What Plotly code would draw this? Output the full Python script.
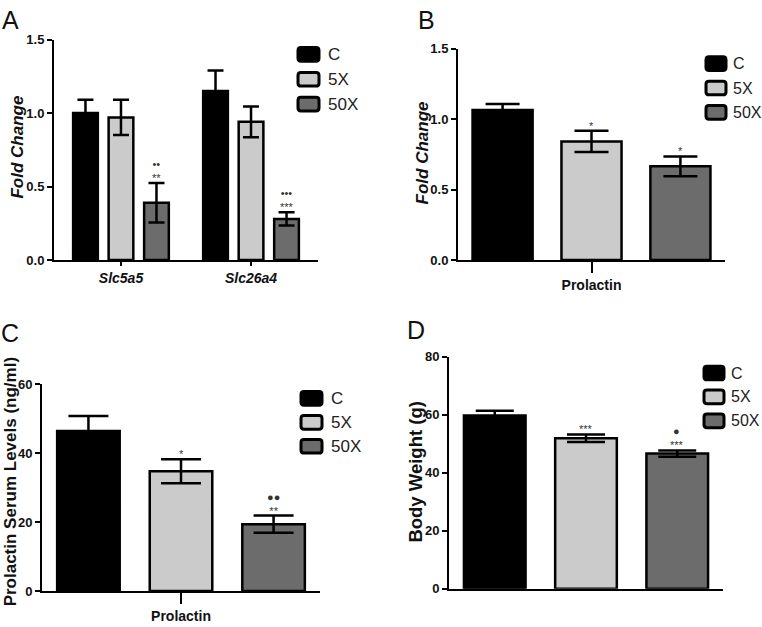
import plotly.graph_objects as go

# ---------------- data ----------------
groups = ["C", "5X", "50X"]
colors = ["#000000", "#cbcbcb", "#6c6c6c"]

a_genes = ["Slc5a5", "Slc26a4"]
a_mean = {"C": [1.00, 1.15], "5X": [0.97, 0.94], "50X": [0.39, 0.28]}
a_sem = {"C": [0.09, 0.14], "5X": [0.12, 0.105], "50X": [0.135, 0.045]}
a_sig = {"50X": ["••<br>**", "•••<br>***"]}

b_cat = ["Prolactin"]
b_mean = [1.065, 0.842, 0.665]
b_sem = [0.042, 0.075, 0.07]
b_sig = ["", "*", "*"]

c_cat = ["Prolactin"]
c_mean = [46.5, 34.8, 19.4]
c_sem = [4.3, 3.5, 2.5]
c_sig = ["", "*", "●●<br>**"]

d_cat = ["Body Weight"]
d_mean = [59.7, 51.9, 46.6]
d_sem = [1.7, 1.3, 1.1]
d_sig = ["", "***", "●<br>***"]

W, H = 762, 627
SANS = "Liberation Sans, Arial, Helvetica"

fig = go.Figure()

def px_x(p):
    return p / W

def px_y(p):
    return 1 - p / H

dom = {
    "A": dict(x=(54, 318), y=(259.3, 33.3)),
    "B": dict(x=(458, 725), y=(259.3, 42.7)),
    "C": dict(x=(42, 320), y=(598.3, 386.7)),
    "D": dict(x=(449, 723), y=(596, 358.3)),
}
axn = {"A": ("x", "y", "xaxis", "yaxis"), "B": ("x2", "y2", "xaxis2", "yaxis2"),
       "C": ("x3", "y3", "xaxis3", "yaxis3"), "D": ("x4", "y4", "xaxis4", "yaxis4")}

annotations = []
shapes = []

def sig_mark(xref, yref, x, ytop, text):
    if not text:
        return
    annotations.append(dict(
        xref=xref, yref=yref, x=x, y=ytop, text=text, showarrow=False,
        yanchor="bottom", yshift=-2, borderpad=0,
        font=dict(family=SANS, size=11, color="#333"),
    ))

# ---- Panel A ----
a_slot, a_w = 0.273, 0.19
for i, g in enumerate(groups):
    c = (i - 1) * a_slot
    fig.add_trace(go.Bar(
        x=a_genes, y=a_mean[g], name=g, xaxis="x", yaxis="y",
        offset=c - a_w / 2, width=a_w,
        marker=dict(color=colors[i], line=dict(color="black", width=2.5)),
        error_y=dict(type="data", array=a_sem[g], color="black", thickness=2.5, width=8),
        showlegend=False,
    ))
    if g in a_sig:
        for j, txt in enumerate(a_sig[g]):
            sig_mark("x", "y", j + c, a_mean[g][j] + a_sem[g][j], txt)

# ---- Panels B, C, D ----
s_slot, s_w = 0.333, 0.225
for key, cat, mean, sem, sig, cap in [
    ("B", b_cat, b_mean, b_sem, b_sig, 17),
    ("C", c_cat, c_mean, c_sem, c_sig, 20),
    ("D", d_cat, d_mean, d_sem, d_sig, 19),
]:
    xa, ya, _, _ = axn[key]
    for i, g in enumerate(groups):
        c = (i - 1) * s_slot
        fig.add_trace(go.Bar(
            x=cat, y=[mean[i]], name=g, xaxis=xa, yaxis=ya,
            offset=c - s_w / 2, width=s_w,
            marker=dict(color=colors[i], line=dict(color="black", width=2.5)),
            error_y=dict(type="data", array=[sem[i]], color="black", thickness=2.5, width=cap),
            showlegend=False,
        ))
        sig_mark(xa, ya, c, mean[i] + sem[i], sig[i])

# ---- axes ----
axis_common = dict(showgrid=False, zeroline=False, showline=True, linecolor="black",
                   linewidth=2, ticks="outside", tickcolor="black", tickwidth=2)
yt_font = dict(family=SANS, size=13, color="#111", weight="bold")

layout_axes = {}
for key, (yr, dt, fmt) in {"A": ((0, 1.5), 0.5, ".1f"), "B": ((0, 1.5), 0.5, ".1f"),
                           "C": ((0, 60), 20, "d"), "D": ((0, 80), 20, "d")}.items():
    xa, ya, xk, yk = axn[key]
    d = dom[key]
    layout_axes[yk] = dict(axis_common, domain=[px_y(d["y"][0]), px_y(d["y"][1])],
                           range=list(yr), dtick=dt, tick0=0, tickformat=fmt,
                           ticklen=5, tickfont=yt_font, anchor=xa)
    xd = dict(axis_common, domain=[px_x(d["x"][0]), px_x(d["x"][1])], anchor=ya,
              type="category")
    if key == "A":
        xd.update(range=[-0.515, 1.515], ticklen=4,
                  tickfont=dict(family=SANS, size=14, color="#111", weight="bold", style="italic"))
    elif key == "D":
        xd.update(range=[-0.5, 0.5], ticks="", showticklabels=False)
    else:
        xd.update(range=[-0.5, 0.5], ticklen=11,
                  tickfont=dict(family=SANS, size=14, color="#111", weight="bold"))
    layout_axes[xk] = xd

# ---- legends (rounded swatches + text) ----
def rounded_rect(x0, y0, x1, y1, r):
    X = lambda v: px_x(v)
    Y = lambda v: px_y(v)
    return (f"M {X(x0 + r)},{Y(y0)} L {X(x1 - r)},{Y(y0)} Q {X(x1)},{Y(y0)} {X(x1)},{Y(y0 + r)} "
            f"L {X(x1)},{Y(y1 - r)} Q {X(x1)},{Y(y1)} {X(x1 - r)},{Y(y1)} "
            f"L {X(x0 + r)},{Y(y1)} Q {X(x0)},{Y(y1)} {X(x0)},{Y(y1 - r)} "
            f"L {X(x0)},{Y(y0 + r)} Q {X(x0)},{Y(y0)} {X(x0 + r)},{Y(y0)} Z")

leg_pos = {  # swatch left x, swatch right x, first center y, step, text x, font size
    "A": (298, 319, 48.5, 25.5, 326, 17),
    "B": (706, 726, 58, 25, 731, 16),
    "C": (301, 322, 401, 24.5, 329, 17),
    "D": (704, 724, 375, 24.5, 729, 16),
}
for key, (x0, x1, cy, st, tx, fs) in leg_pos.items():
    for i, g in enumerate(groups):
        yc = cy + i * st
        shapes.append(dict(type="path", xref="paper", yref="paper",
                           path=rounded_rect(x0, yc - 7, x1, yc + 7, 3),
                           fillcolor=colors[i], line=dict(color="black", width=3)))
        annotations.append(dict(xref="paper", yref="paper", x=px_x(tx), y=px_y(yc), text=g,
                                showarrow=False, xanchor="left", yanchor="middle",
                                font=dict(family=SANS, size=fs, color="#222")))

# ---- panel letters ----
for letter, (x, y) in {"A": (10, 13), "B": (426, 13), "C": (10, 334), "D": (416, 331)}.items():
    annotations.append(dict(xref="paper", yref="paper", x=px_x(x), y=px_y(y), text=letter,
                            showarrow=False, xanchor="center", yanchor="middle",
                            font=dict(family=SANS, size=25, color="#111")))

# ---- y titles ----
for text, (x, y), style, size in [("Fold Change", (18, 144), "italic", 17),
                                  ("Fold Change", (422, 150), "italic", 17),
                                  ("Prolactin Serum Levels (ng/ml)", (10, 487), "normal", 17),
                                  ("Body Weight (g)", (416, 477), "normal", 18.5)]:
    annotations.append(dict(xref="paper", yref="paper", x=px_x(x), y=px_y(y), text=text,
                            showarrow=False, textangle=-90, xanchor="center", yanchor="middle",
                            font=dict(family=SANS, size=size, color="#111", weight="bold",
                                      style=style)))

fig.update_layout(
    width=W, height=H, margin=dict(l=0, r=0, t=0, b=0),
    paper_bgcolor="white", plot_bgcolor="white",
    barmode="overlay", showlegend=False,
    annotations=annotations, shapes=shapes,
    **layout_axes,
)

fig.write_html("out.html", config={"displayModeBar": False},
               post_script="document.body.style.margin='0px';")
